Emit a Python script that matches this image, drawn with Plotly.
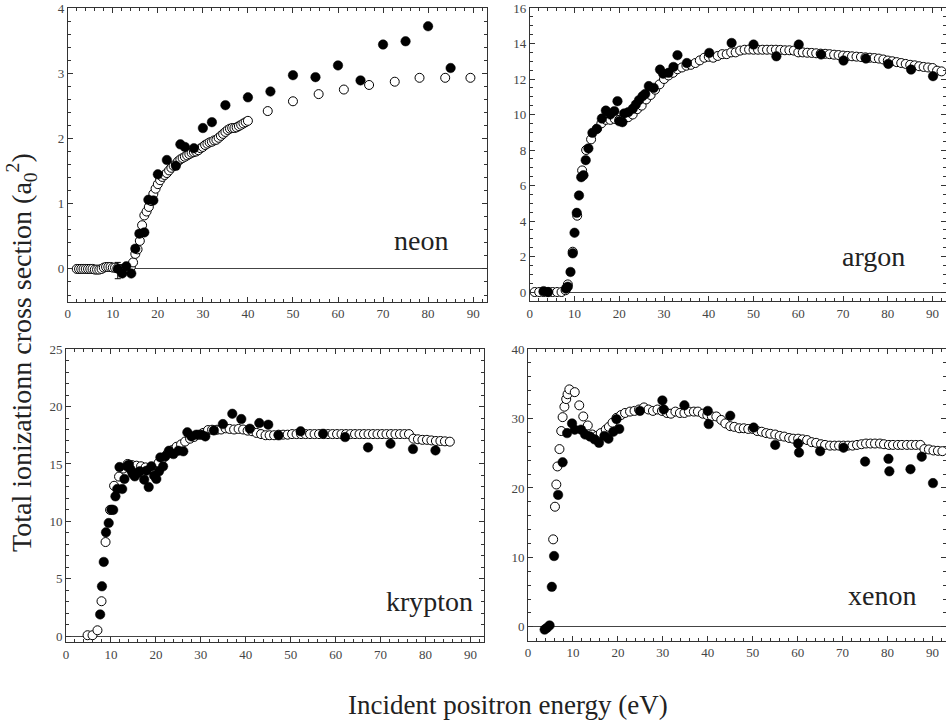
import plotly.graph_objects as go

# ---------------- data ----------------
# Neon
neon_open_x = [2.0, 2.5, 3.0, 3.5, 4.0, 4.5, 5.0, 5.5, 6.0, 6.5, 7.0, 7.5, 8.0, 8.5, 9.0, 9.5, 10.0, 10.5,
               11.0, 11.5, 12.0, 12.5, 13.0, 13.5, 14.0, 14.5, 15.0, 15.5, 16.0, 16.5, 17.0, 17.5, 18.0, 18.5,
               19.0, 19.5, 20.0, 20.5, 21.0, 21.5, 22.0, 22.5, 23.0, 23.5, 24.0, 24.5, 25.0, 25.5, 26.0, 26.5,
               27.0, 27.5, 28.0, 28.5, 29.0, 29.5, 30.0, 30.5, 31.0, 31.5, 32.0, 32.5, 33.0, 33.5, 34.0, 34.5,
               35.0, 35.5, 36.0, 36.5, 37.0, 37.5, 38.0, 38.5, 39.0, 39.5, 40.0,
               44.4, 50.0, 55.7, 61.3, 66.9, 72.6, 78.1, 83.8, 89.4]
neon_open_y = [0.0, 0.0, 0.0, 0.0, 0.0, 0.0, 0.0, 0.0, -0.01, -0.01, -0.01, 0.0, 0.02, 0.03, 0.03, 0.03, 0.02, 0.02,
               0.01, 0.0, 0.0, 0.0, 0.0, 0.01, 0.03, 0.1, 0.23, 0.3, 0.43, 0.67, 0.82, 0.88, 0.95, 1.04,
               1.15, 1.23, 1.3, 1.36, 1.41, 1.44, 1.47, 1.51, 1.55, 1.58, 1.61, 1.65, 1.68, 1.7, 1.72, 1.74,
               1.76, 1.78, 1.79, 1.8, 1.82, 1.85, 1.87, 1.9, 1.92, 1.94, 1.95, 1.97, 1.98, 2.01, 2.04, 2.07,
               2.1, 2.13, 2.15, 2.16, 2.16, 2.17, 2.19, 2.21, 2.23, 2.25, 2.27,
               2.42, 2.57, 2.68, 2.75, 2.82, 2.87, 2.93, 2.93, 2.93]
neon_fill_x = [12.1, 13.0, 14.1, 15.0, 15.9, 17.0, 17.9, 19.0, 20.0, 22.0, 24.0, 25.0, 26.0, 28.0, 30.0, 32.0,
               35.0, 40.0, 45.0, 50.0, 55.0, 60.0, 65.0, 70.0, 75.0, 80.0, 85.0]
neon_fill_y = [-0.07, 0.04, -0.07, 0.31, 0.54, 0.56, 1.06, 1.05, 1.45, 1.67, 1.58, 1.91, 1.87, 1.85, 2.16, 2.25,
               2.51, 2.63, 2.72, 2.97, 2.94, 3.12, 2.89, 3.44, 3.49, 3.72, 3.08]
neon_err_x = [11.1]
neon_err_y = [0.0]
neon_err_plus = [0.1]
neon_err_minus = [0.15]

# Argon
argon_open_x = [1.1, 2.1, 3.1, 4.1, 5.1, 6.1, 7.1, 8.0, 8.5, 9.6, 10.6, 11.7, 12.6, 13.7, 15.0, 16.0, 17.0, 18.0,
                19.0, 20.0, 21.0, 22.0, 23.0, 24.0, 25.0, 26.0, 27.0, 28.0, 29.0, 30.0, 31.0, 32.0, 33.0, 34.0,
                35.0, 36.0, 37.0, 38.0, 39.0, 40.0, 41.0, 42.0, 43.0, 44.0, 45.0, 46.0, 47.0, 48.0, 49.0, 50.0,
                51.0, 52.0, 53.0, 54.0, 55.0, 56.0, 57.0, 58.0, 59.0, 60.0, 61.0, 62.0, 63.0, 64.0, 65.0, 66.0,
                67.0, 68.0, 69.0, 70.0, 71.0, 72.0, 73.0, 74.0, 75.0, 76.0, 77.0, 78.0, 79.0, 80.0, 81.0, 82.0,
                83.0, 84.0, 85.0, 86.0, 87.0, 88.0, 89.0, 90.0, 91.0, 92.0]
argon_open_y = [0.0, 0.0, 0.0, 0.0, 0.0, 0.0, 0.0, 0.1, 0.43, 2.27, 4.3, 6.85, 8.0, 8.6, 9.2, 9.5, 9.7, 9.7,
                9.75, 9.7, 9.8, 9.85, 10.0, 10.3, 10.5, 10.85, 11.1, 11.4, 11.7, 12.0, 12.2, 12.35, 12.55, 12.65,
                12.75, 12.8, 12.9, 13.05, 13.2, 13.25, 13.2, 13.3, 13.4, 13.4, 13.5, 13.5, 13.6, 13.65, 13.66, 13.65,
                13.65, 13.65, 13.65, 13.65, 13.65, 13.64, 13.62, 13.62, 13.6, 13.5, 13.5, 13.48, 13.47, 13.45, 13.43, 13.42,
                13.4, 13.37, 13.35, 13.32, 13.3, 13.28, 13.26, 13.24, 13.22, 13.2, 13.18, 13.15, 13.1, 13.04, 13.0, 12.95,
                12.9, 12.85, 12.8, 12.77, 12.72, 12.68, 12.65, 12.62, 12.47, 12.43]
argon_fill_x = [3.1, 4.1, 8.1, 8.5, 9.1, 9.6, 10.0, 10.5, 11.0, 11.5, 12.0, 12.5, 13.1, 14.0, 15.0, 16.1, 17.0,
                18.0, 18.9, 19.6, 20.0, 20.7, 21.1, 22.0, 23.0, 23.7, 24.4, 25.2, 25.8, 26.6, 27.7, 29.1, 29.8,
                31.0, 32.1, 33.0, 35.1, 40.1, 45.1, 50.0, 55.1, 60.1, 65.1, 70.1, 75.1, 80.1, 85.2, 90.1]
argon_fill_y = [0.05, 0.0, 0.19, 0.3, 1.13, 2.18, 3.34, 4.46, 5.44, 6.47, 6.58, 7.43, 8.09, 8.97, 9.19, 9.77, 10.22,
                10.0, 10.19, 10.75, 9.62, 9.57, 10.06, 10.13, 10.32, 10.56, 10.81, 11.03, 11.16, 11.6, 11.5, 12.53, 12.3,
                12.35, 12.68, 13.34, 12.9, 13.47, 14.03, 13.94, 13.28, 13.94, 13.38, 13.04, 13.15, 12.85, 12.53, 12.16]

# Krypton
krypton_open_x = [4.8, 5.9, 7.0, 7.9, 8.8, 9.8, 10.7, 11.8, 12.7, 13.7, 14.7, 15.7, 16.7, 17.7, 18.7, 19.6, 20.6,
                  21.6, 22.6, 23.6, 24.6, 25.6, 26.5, 27.6, 28.5, 29.6, 30.5, 31.6, 32.5, 33.6, 34.5, 35.5, 36.4,
                  37.4, 38.4, 39.4, 40.4, 41.4, 42.4, 43.4, 44.4, 45.3, 46.3, 47.3, 48.3, 49.3, 50.3, 51.3, 52.3,
                  53.3, 54.3, 55.3, 56.3, 57.3, 58.3, 59.3, 60.3, 61.3, 62.3, 63.3, 64.3, 65.3, 66.3, 67.3, 68.3,
                  69.3, 70.3, 71.3, 72.3, 73.3, 74.3, 75.3, 76.3, 77.3, 78.3, 79.3, 80.3, 81.3, 82.3, 83.3, 84.3, 85.4]
krypton_open_y = [0.09, 0.09, 0.52, 3.05, 8.2, 11.0, 13.1, 13.9, 14.6, 15.0, 14.9, 14.85, 14.8, 14.7, 14.55, 14.4, 15.1,
                  15.5, 15.9, 16.2, 16.5, 16.7, 16.95, 17.2, 17.35, 17.55, 17.7, 17.95, 17.98, 17.98, 18.0, 18.1, 18.05,
                  18.0, 18.05, 18.0, 17.9, 17.85, 17.7, 17.6, 17.5, 17.5, 17.5, 17.55, 17.55, 17.55, 17.6, 17.6, 17.6,
                  17.6, 17.6, 17.6, 17.6, 17.6, 17.6, 17.6, 17.6, 17.6, 17.6, 17.6, 17.6, 17.6, 17.6, 17.6, 17.6,
                  17.6, 17.6, 17.6, 17.6, 17.6, 17.6, 17.6, 17.6, 17.2, 17.15, 17.1, 17.1, 17.05, 17.0, 17.0, 16.97, 16.94]
krypton_fill_x = [7.6, 8.0, 8.4, 8.9, 9.5, 10.1, 10.5, 11.0, 11.4, 11.9, 12.5, 13.0, 13.6, 14.0, 14.4, 14.8, 15.3,
                  15.9, 16.4, 17.4, 17.9, 18.4, 19.0, 19.6, 20.1, 20.7, 21.0, 21.6, 22.1, 22.9, 23.9, 25.0, 26.1,
                  27.0, 27.9, 29.0, 30.1, 31.0, 32.9, 34.9, 37.0, 39.0, 40.9, 43.0, 45.0, 47.3, 52.2, 57.2, 62.1,
                  67.2, 72.2, 77.2, 82.2]
krypton_fill_y = [1.9, 4.35, 6.47, 9.05, 9.86, 11.02, 11.0, 12.18, 12.82, 14.73, 12.82, 13.69, 14.79, 14.94, 14.5, 14.15, 13.92,
                  14.21, 14.36, 13.63, 14.41, 12.99, 14.79, 13.98, 13.69, 14.36, 15.57, 14.79, 15.66, 16.15, 15.86, 16.15, 16.1,
                  17.75, 17.4, 17.55, 17.55, 17.4, 17.92, 18.47, 19.37, 18.91, 18.07, 18.56, 18.42, 17.49, 17.84, 17.63, 17.34,
                  16.44, 16.76, 16.3, 16.18]

# Xenon
xenon_open_x = [5.6, 6.0, 6.3, 6.55, 7.0, 7.4, 7.7, 8.1, 8.5, 8.8, 9.2, 10.4, 11.4, 12.3, 13.3, 14.3, 15.3, 16.2,
                17.3, 18.0, 18.8, 19.7, 20.7, 21.6, 22.7, 23.7, 24.7, 25.8, 26.8, 27.8, 28.8, 29.8, 30.9, 31.8,
                32.8, 33.8, 34.8, 35.8, 36.9, 37.8, 38.9, 39.9, 40.9, 41.9, 43.0, 43.9, 45.0, 45.9, 47.0, 48.0,
                49.0, 50.0, 51.0, 52.0, 53.0, 53.9, 55.0, 56.0, 57.0, 58.1, 59.0, 60.1, 61.1, 62.1, 63.1, 64.1,
                65.2, 66.1, 67.2, 68.2, 69.2, 70.2, 71.2, 72.2, 73.2, 74.2, 75.2, 76.2, 77.2, 78.3, 79.2, 80.3,
                81.2, 82.3, 83.2, 84.3, 85.3, 86.3, 87.3, 88.2, 89.2, 90.2, 91.2, 92.2]
xenon_open_y = [12.6, 17.3, 20.5, 23.1, 25.6, 28.2, 30.2, 31.7, 32.8, 33.5, 34.2, 33.8, 31.9, 30.3, 29.0, 27.7, 27.5, 27.9,
                28.4, 28.8, 29.4, 30.1, 30.5, 30.8, 31.0, 31.1, 31.3, 31.6, 31.3, 31.1, 31.3, 31.1, 30.8, 30.7,
                31.0, 30.8, 30.8, 31.0, 31.0, 31.0, 30.7, 30.5, 30.3, 30.3, 29.8, 29.3, 28.9, 28.8, 28.6, 28.6,
                28.5, 28.5, 28.2, 28.1, 27.9, 27.8, 27.7, 27.5, 27.4, 27.2, 27.1, 27.1, 27.0, 26.9, 26.6, 26.5,
                26.3, 26.2, 26.1, 26.1, 26.1, 26.1, 26.1, 26.1, 26.2, 26.3, 26.4, 26.4, 26.4, 26.4, 26.3, 26.2,
                26.2, 26.2, 26.2, 26.2, 26.2, 26.2, 26.2, 25.6, 25.55, 25.4, 25.35, 25.3]
xenon_fill_x = [3.7, 4.2, 4.8, 5.3, 5.8, 6.7, 7.7, 8.7, 9.8, 10.4, 11.8, 12.7, 13.8, 14.8, 15.8, 17.0, 17.9, 19.0,
                19.7, 20.3, 24.9, 29.9, 30.2, 34.8, 40.0, 40.2, 45.0, 50.2, 55.0, 60.1, 60.3, 65.0, 70.2, 75.0,
                80.2, 80.4, 85.1, 87.6, 90.1]
xenon_fill_y = [-0.4, -0.15, 0.2, 5.76, 10.2, 19.0, 23.7, 27.9, 29.3, 28.4, 28.4, 27.7, 27.4, 27.0, 26.5, 27.5, 27.1, 28.1,
                29.9, 28.5, 31.1, 32.6, 31.3, 31.9, 31.1, 29.2, 30.4, 28.7, 26.2, 26.4, 25.1, 25.3, 25.8, 23.8,
                24.2, 22.4, 22.7, 24.5, 20.7]

x_tick_vals = [0, 10, 20, 30, 40, 50, 60, 70, 80, 90]

panels = [
    # name, open x, open y, fill x, fill y, yrange, ydtick, yminor, xdomain, ydomain, label pos
    ("neon", neon_open_x, neon_open_y, neon_fill_x, neon_fill_y, [-0.5, 4], 1, 0.2,
     [0.002, 0.478], [0.537, 1.0], (78.4, 0.43)),
    ("argon", argon_open_x, argon_open_y, argon_fill_x, argon_fill_y, [-0.5, 16], 2, 0.5,
     [0.527, 1.0], [0.538, 1.0], (76.8, 2.0)),
    ("krypton", krypton_open_x, krypton_open_y, krypton_fill_x, krypton_fill_y, [-0.5, 25], 5, 1,
     [0.0, 0.475], [0.0, 0.462], (80.9, 3.0)),
    ("xenon", xenon_open_x, xenon_open_y, xenon_fill_x, xenon_fill_y, [-2, 40], 10, 2,
     [0.525, 1.0], [0.002, 0.462], (78.7, 4.5)),
]

FONT = "Liberation Serif, Times New Roman, serif"
fig = go.Figure()
layout = {}
annotations = []

for i, (name, ox, oy, fx, fy, yr, ydt, ymin, xd, yd, lab) in enumerate(panels):
    n = "" if i == 0 else str(i + 1)
    xa, ya = "x" + n, "y" + n
    fig.add_trace(go.Scatter(x=ox, y=oy, mode="markers", xaxis=xa, yaxis=ya,
                             marker=dict(symbol="circle", size=9, color="white",
                                         line=dict(color="black", width=1)),
                             showlegend=False))
    fig.add_trace(go.Scatter(x=fx, y=fy, mode="markers", xaxis=xa, yaxis=ya,
                             marker=dict(symbol="circle", size=9.5, color="black",
                                         line=dict(color="black", width=0.5)),
                             showlegend=False))
    if name == "neon":
        fig.add_trace(go.Scatter(x=neon_err_x, y=neon_err_y, mode="markers", xaxis=xa, yaxis=ya,
                                 marker=dict(symbol="circle", size=9.5, color="black"),
                                 error_y=dict(type="data", symmetric=False, array=neon_err_plus,
                                              arrayminus=neon_err_minus, color="black",
                                              thickness=1, width=3),
                                 showlegend=False))
    common = dict(showline=True, linecolor="#333", linewidth=1, mirror="allticks",
                  ticks="inside", ticklen=5, tickwidth=1, tickcolor="#333",
                  showgrid=False,
                  tickfont=dict(family=FONT, size=13, color="#444"))
    layout["xaxis" + n] = dict(common, domain=xd, anchor=ya, range=[0, 93],
                               tickvals=x_tick_vals, zeroline=False,
                               minor=dict(ticks="inside", dtick=2, ticklen=3, tickcolor="#333",
                                          showgrid=False))
    layout["yaxis" + n] = dict(common, domain=yd, anchor=xa, range=yr, dtick=ydt,
                               zeroline=True, zerolinecolor="#444", zerolinewidth=1,
                               minor=dict(ticks="inside", dtick=ymin, ticklen=3, tickcolor="#333",
                                          showgrid=False))
    annotations.append(dict(x=lab[0], y=lab[1], xref=xa, yref=ya, text=name, showarrow=False,
                            font=dict(family=FONT, size=28, color="#222"),
                            xanchor="center", yanchor="middle"))

annotations.append(dict(x=0.502, y=-0.100, xref="paper", yref="paper",
                        text="Incident positron energy (eV)", showarrow=False,
                        font=dict(family=FONT, size=27, color="#222"),
                        xanchor="center", yanchor="middle"))
annotations.append(dict(x=-0.05, y=0.456, xref="paper", yref="paper",
                        text="Total ionizationn cross section (a<sub>0</sub><sup>2</sup>)",
                        showarrow=False, textangle=-90,
                        font=dict(family=FONT, size=28, color="#222"),
                        xanchor="center", yanchor="middle"))

fig.update_layout(**layout)
fig.update_layout(width=946, height=726, margin=dict(l=66, r=0, t=8, b=84),
                  paper_bgcolor="white", plot_bgcolor="white",
                  annotations=annotations, showlegend=False)

fig.write_html("out.html", config={"displayModeBar": False},
               post_script="document.body.style.margin='0';document.body.style.overflow='hidden';")
